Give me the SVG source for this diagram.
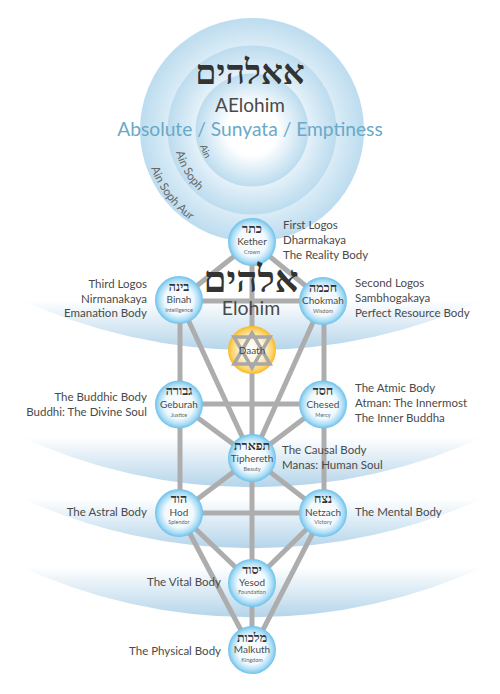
<svg xmlns="http://www.w3.org/2000/svg" xmlns:xlink="http://www.w3.org/1999/xlink" width="500" height="694" viewBox="0 0 500 694">
<style>
text{font-family:Lato,"Open Sans",sans-serif;fill:#4a4a4a}
.he{font-family:"Liberation Serif","DejaVu Sans",serif;fill:#333;text-anchor:middle}
.nh{font-size:12.5px;font-weight:bold}
.n{font-size:10px;text-anchor:middle}
.s{font-size:5.500px;text-anchor:middle;fill:#666}
.l{font-size:11.500px}
.r{font-size:11.500px;text-anchor:end}
.c{font-size:11.500px;fill:#666}
.ln line{stroke:#adadad;stroke-width:5}
.node{fill:url(#nb)}
</style>
<defs>
<radialGradient id="nb" cx="50%" cy="50%" r="50%"><stop offset="0" stop-color="#fff"/><stop offset=".6" stop-color="#f0f9fe"/><stop offset=".85" stop-color="#a9dcf5"/><stop offset="1" stop-color="#6cc1ec"/></radialGradient>
<radialGradient id="ng" cx="50%" cy="50%" r="50%"><stop offset="0" stop-color="#fff"/><stop offset=".5" stop-color="#fdf3d8"/><stop offset=".85" stop-color="#fcd36a"/><stop offset="1" stop-color="#fbb81f"/></radialGradient>
<radialGradient id="ci" cx="50%" cy="50%" r="50%"><stop offset="0" stop-color="#fff"/><stop offset=".45" stop-color="#fff"/><stop offset="1" stop-color="#bcdcef"/></radialGradient>
<linearGradient id="b1" gradientUnits="userSpaceOnUse" x1="0" y1="300" x2="0" y2="350"><stop offset="0" stop-color="#fff"/><stop offset="1" stop-color="#b5d5ea"/></linearGradient>
<linearGradient id="b2" gradientUnits="userSpaceOnUse" x1="0" y1="437" x2="0" y2="487"><stop offset="0" stop-color="#fff"/><stop offset="1" stop-color="#b5d5ea"/></linearGradient>
<linearGradient id="b3" gradientUnits="userSpaceOnUse" x1="0" y1="498" x2="0" y2="548"><stop offset="0" stop-color="#fff"/><stop offset="1" stop-color="#b5d5ea"/></linearGradient>
<linearGradient id="b4" gradientUnits="userSpaceOnUse" x1="0" y1="567" x2="0" y2="617"><stop offset="0" stop-color="#fff"/><stop offset="1" stop-color="#b5d5ea"/></linearGradient>
<path id="a1" d="M200 146 A55 55 0 0 0 222 176"/>
<path id="a2" d="M176 152 A80 80 0 0 0 214 202"/>
<path id="a3" d="M151 168 A108 108 0 0 0 205 229"/>
</defs>
<g id="bands">
<path d="M15 297 A556 556 0 0 0 490 297 Z" fill="url(#b1)"/>
<path d="M15 434 A556 556 0 0 0 490 434 Z" fill="url(#b2)"/>
<path d="M15 495 A556 556 0 0 0 490 495 Z" fill="url(#b3)"/>
<path d="M15 564 A556 556 0 0 0 490 564 Z" fill="url(#b4)"/>
</g>
<g id="absolute">
<circle cx="252" cy="130" r="112" fill="url(#ci)"/>
<circle cx="252" cy="130" r="84.500" fill="url(#ci)"/>
<circle cx="252" cy="130" r="56.500" fill="url(#ci)"/>
<text class="he" x="250" y="84" style="font-size:34px;font-weight:bold">אאלהים</text>
<text x="250" y="112" style="font-size:19px;text-anchor:middle">AElohim</text>
<text x="250" y="136" style="font-size:19.200px;text-anchor:middle;fill:#69a9c9">Absolute / Sunyata / Emptiness</text>
<text class="c" style="font-size:9.500px"><textPath xlink:href="#a1" href="#a1">Ain</textPath></text>
<text class="c"><textPath xlink:href="#a2" href="#a2">Ain Soph</textPath></text>
<text class="c"><textPath xlink:href="#a3" href="#a3">Ain Soph Aur</textPath></text>
</g>
<g id="connectors" class="ln">
<line x1="252" y1="242" x2="179" y2="300"/>
<line x1="252" y1="242" x2="323" y2="300"/>
<line x1="179" y1="301" x2="323" y2="301"/>
<line x1="252" y1="242" x2="252" y2="458"/>
<line x1="180" y1="300" x2="180" y2="513"/>
<line x1="324" y1="300" x2="324" y2="513"/>
<line x1="179" y1="300" x2="252" y2="458"/>
<line x1="323" y1="300" x2="252" y2="458"/>
<line x1="179" y1="404" x2="323" y2="404"/>
<line x1="179" y1="404" x2="252" y2="458"/>
<line x1="323" y1="404" x2="252" y2="458"/>
<line x1="252" y1="458" x2="179" y2="513"/>
<line x1="252" y1="458" x2="323" y2="513"/>
<line x1="252" y1="458" x2="252" y2="651"/>
<line x1="179" y1="513" x2="323" y2="513"/>
<line x1="179" y1="513" x2="252" y2="583"/>
<line x1="323" y1="513" x2="252" y2="583"/>
<line x1="179" y1="513" x2="252" y2="651"/>
<line x1="323" y1="513" x2="252" y2="651"/>
</g>
<g id="kether"><circle class="node" cx="252" cy="242" r="24"/><text class="he nh" x="252" y="233">כתר</text><text class="n" x="252" y="245">Kether</text><text class="s" x="252" y="254">Crown</text></g>
<g id="binah"><circle class="node" cx="179" cy="300" r="24"/><text class="he nh" x="179" y="291">בינה</text><text class="n" x="179" y="303">Binah</text><text class="s" x="179" y="312">Intelligence</text></g>
<g id="chokmah"><circle class="node" cx="323" cy="301" r="24"/><text class="he nh" x="323" y="292">חכמה</text><text class="n" x="323" y="304">Chokmah</text><text class="s" x="323" y="313">Wisdom</text></g>
<g id="daath"><circle cx="252" cy="350" r="24" fill="url(#ng)"/><path d="M252 333 L270 364 H234 Z M252 368 L270 337 H234 Z" fill="none" stroke="#a8a8a8" stroke-width="3.500"/><text class="n" x="252" y="354">Daath</text></g>
<g id="geburah"><circle class="node" cx="179" cy="404.500" r="24"/><text class="he nh" x="179" y="395">גבורה</text><text class="n" x="179" y="408">Geburah</text><text class="s" x="179" y="417">Justice</text></g>
<g id="chesed"><circle class="node" cx="323" cy="404.500" r="24"/><text class="he nh" x="323" y="395">חסד</text><text class="n" x="323" y="408">Chesed</text><text class="s" x="323" y="417">Mercy</text></g>
<g id="tiphereth"><circle class="node" cx="252" cy="458" r="24"/><text class="he nh" x="252" y="450">תפארת</text><text class="n" x="252" y="462">Tiphereth</text><text class="s" x="252" y="471">Beauty</text></g>
<g id="hod"><circle class="node" cx="179" cy="513" r="24"/><text class="he nh" x="179" y="503">הוד</text><text class="n" x="179" y="516">Hod</text><text class="s" x="179" y="524">Splendor</text></g>
<g id="netzach"><circle class="node" cx="323" cy="513" r="24"/><text class="he nh" x="323" y="503">נצח</text><text class="n" x="323" y="516">Netzach</text><text class="s" x="323" y="524">Victory</text></g>
<g id="yesod"><circle class="node" cx="252" cy="583" r="24"/><text class="he nh" x="252" y="574">יסוד</text><text class="n" x="252" y="586">Yesod</text><text class="s" x="252" y="594">Foundation</text></g>
<g id="malkuth"><circle class="node" cx="252" cy="650" r="24"/><text class="he nh" x="252" y="642">מלכות</text><text class="n" x="252" y="653">Malkuth</text><text class="s" x="252" y="662">Kingdom</text></g>
<g id="elohim">
<text class="he" x="251" y="292" style="font-size:37px;font-weight:bold">אלהים</text>
<text x="251" y="315" style="font-size:19.500px;text-anchor:middle">Elohim</text>
</g>
<g id="labels">
<text class="l" x="283" y="229">First Logos</text><text class="l" x="283" y="244">Dharmakaya</text><text class="l" x="283" y="259">The Reality Body</text>
<text class="l" x="355" y="287">Second Logos</text><text class="l" x="355" y="302">Sambhogakaya</text><text class="l" x="355" y="317">Perfect Resource Body</text>
<text class="r" x="147" y="288">Third Logos</text><text class="r" x="147" y="303">Nirmanakaya</text><text class="r" x="147" y="317">Emanation Body</text>
<text class="r" x="147" y="401">The Buddhic Body</text><text class="r" x="147" y="416">Buddhi: The Divine Soul</text>
<text class="l" x="355" y="392">The Atmic Body</text><text class="l" x="355" y="407">Atman: The Innermost</text><text class="l" x="355" y="422">The Inner Buddha</text>
<text class="l" x="282" y="454">The Causal Body</text><text class="l" x="282" y="469">Manas: Human Soul</text>
<text class="r" x="147" y="516">The Astral Body</text><text class="l" x="355" y="516">The Mental Body</text>
<text class="r" x="221" y="586">The Vital Body</text><text class="r" x="221" y="655">The Physical Body</text>
</g>
</svg>
